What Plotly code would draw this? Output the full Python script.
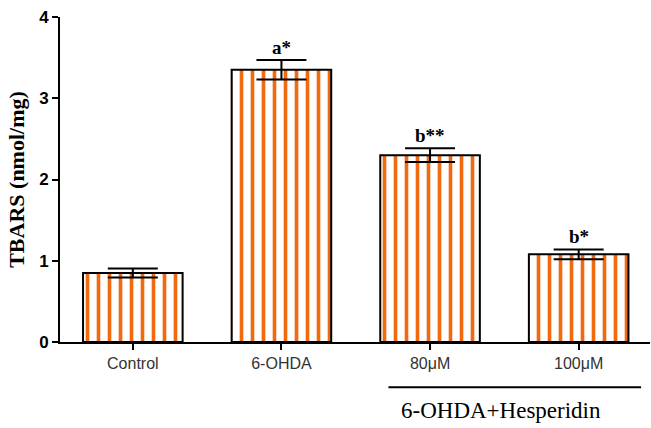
import plotly.graph_objects as go

categories = ["Control", "6-OHDA", "80μM", "100μM"]
values = [0.85, 3.35, 2.30, 1.08]
errors = [0.055, 0.12, 0.085, 0.06]
sig_labels = ["", "a*", "b**", "b*"]
y_ticks = [0, 1, 2, 3, 4]
group_label = "6-OHDA+Hesperidin"

fig = go.Figure()
fig.add_trace(go.Bar(
    x=categories, y=values,
    width=0.67,
    marker=dict(
        color="white",
        line=dict(color="black", width=2),
        pattern=dict(shape="|", fgcolor="#F26A10", bgcolor="white", size=11,
                     solidity=0.33, fgopacity=1),
    ),
    error_y=dict(type="data", array=errors, visible=True, color="black", thickness=2, width=25),
))

for c, v, e, s in zip(categories, values, errors, sig_labels):
    if s:
        fig.add_annotation(x=c, y=v + e, text="<b>" + s + "</b>", showarrow=False,
                           yanchor="bottom", yshift=0,
                           font=dict(family="Liberation Serif", size=19, color="black"))

fig.add_shape(type="line", xref="x", yref="paper", x0=1.72, x1=3.42, y0=-0.139, y1=-0.139,
              line=dict(color="black", width=2))
fig.add_annotation(xref="x", yref="paper", x=2.48, y=-0.21, text=group_label, showarrow=False,
                   font=dict(family="Liberation Serif", size=23, color="black"), yanchor="middle")

fig.update_layout(
    width=651, height=428,
    margin=dict(l=60, r=1, t=17, b=86),
    plot_bgcolor="white", paper_bgcolor="white",
    showlegend=False,
    xaxis=dict(range=[-0.49, 3.48], showline=True, linecolor="black", linewidth=2,
               ticks="outside", ticklen=6, tickwidth=2, tickcolor="black",
               tickfont=dict(family="Liberation Sans", size=16, color="#333"),
               showgrid=False, zeroline=False),
    yaxis=dict(range=[0, 4], tickvals=y_ticks, ticktext=["<b>%d</b>" % t for t in y_ticks],
               showline=True, linecolor="black", linewidth=2,
               ticks="outside", ticklen=6, tickwidth=2, tickcolor="black",
               tickfont=dict(family="Liberation Sans", size=17, color="black"),
               showgrid=False, zeroline=False,
               title=dict(text="<b>TBARS (nmol/mg)</b>", standoff=8,
                          font=dict(family="Liberation Serif", size=22, color="black"))),
)

fig.write_html("out.html", config={"displayModeBar": False},
               post_script="document.body.style.margin='0';")
